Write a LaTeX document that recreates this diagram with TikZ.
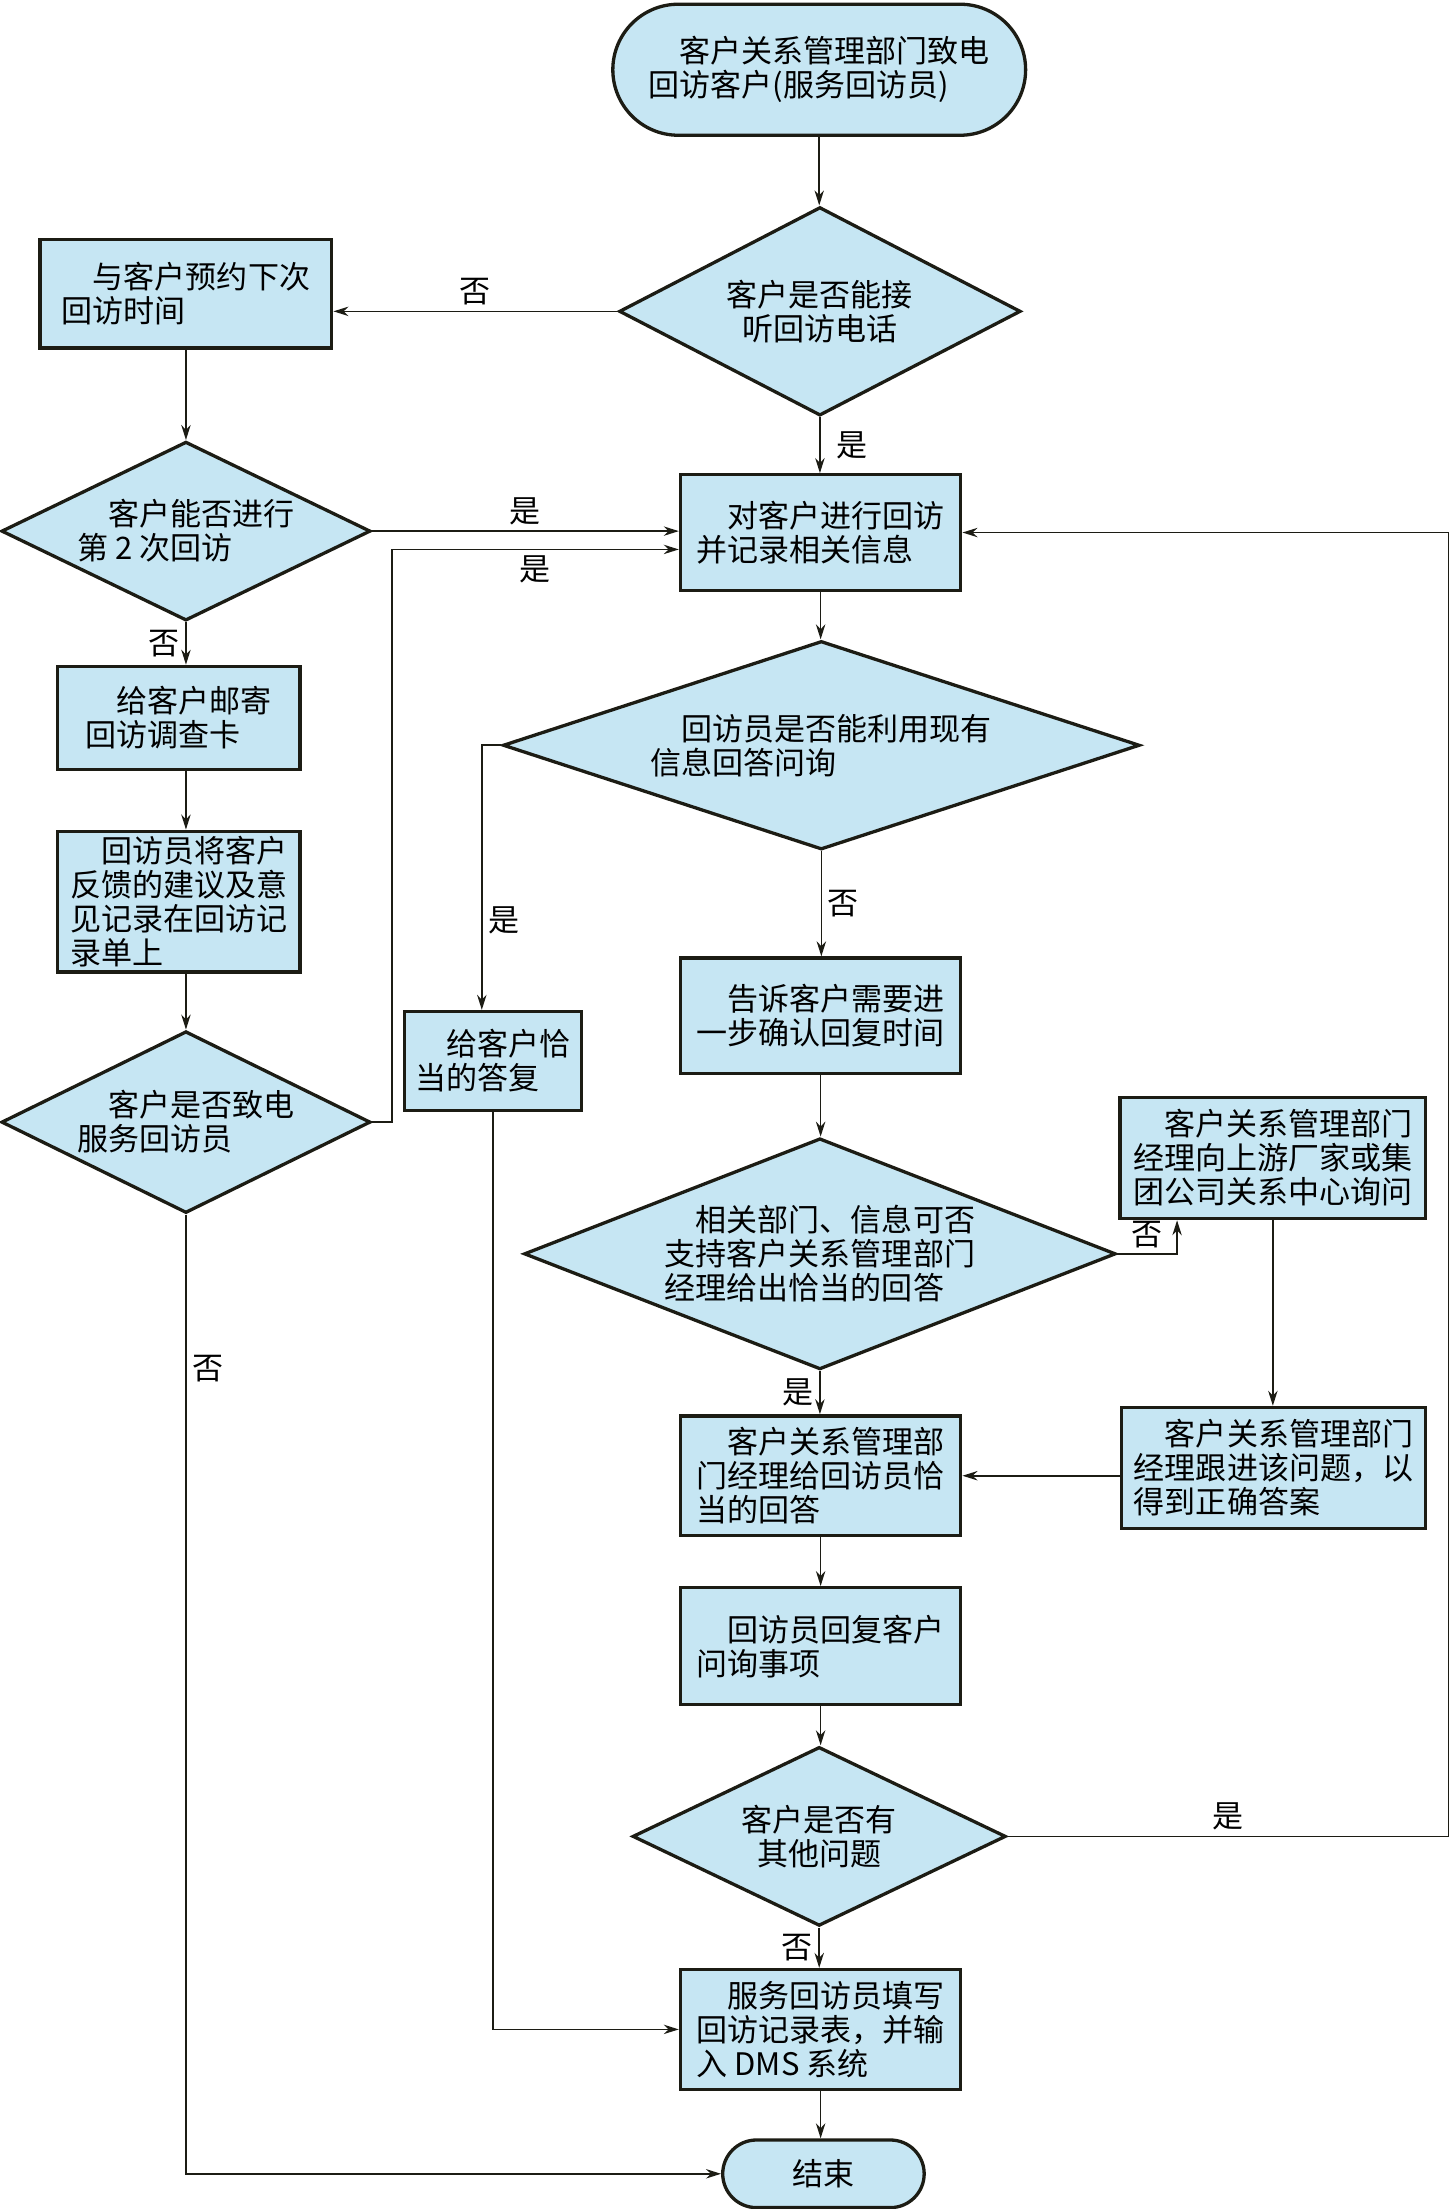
\documentclass[tikz,border=0pt]{standalone}
\usepackage{fontspec}
\setmainfont{Noto Sans CJK SC}
\usetikzlibrary{arrows.meta,calc,shapes.geometric,shapes.misc}
\definecolor{boxblue}{RGB}{198,230,243}
\definecolor{linecol}{RGB}{28,28,20}

\begin{document}
\begin{tikzpicture}[x=0.03cm,y=-0.03cm,
  every node/.style={font=\fontsize{18.8}{20.6}\selectfont},
  proc/.style={draw=linecol,line width=2pt,fill=boxblue,align=left,inner sep=0pt},
  dec/.style={diamond,draw=linecol,line width=2pt,fill=boxblue,align=left,inner sep=0pt},
  term/.style={rounded rectangle,draw=linecol,line width=2pt,fill=boxblue,align=left,inner sep=0pt},
  flow/.style={draw=linecol,line width=1pt,-{Stealth[length=3.2mm,width=2mm]}}]
  \useasboundingbox (0,0) rectangle (1029,1568);

  \node[term,minimum width=8.79cm,minimum height=2.79cm] (start) at (581.5,49.5) {\hspace*{1em}客户关系管理部门致电\\回访客户(服务回访员)};
  \node[dec,align=center,minimum width=8.55cm,minimum height=4.44cm,shape aspect=1.93] (ask) at (582,221) {客户是否能接\\听回访电话};
  \node[proc,minimum width=6.21cm,minimum height=2.31cm] (book) at (132,208.5) {\hspace*{1em}与客户预约下次\\回访时间};
  \node[dec,minimum width=7.86cm,minimum height=3.81cm,shape aspect=2.06] (second) at (132,377) {\hspace*{1em}客户能否进行\\第 2 次回访};
  \node[proc,minimum width=5.97cm,minimum height=2.46cm] (visit) at (582.5,378) {\hspace*{1em}对客户进行回访\\并记录相关信息};
  \node[dec,minimum width=13.56cm,minimum height=4.44cm,shape aspect=3.05] (info) at (583,529) {\hspace*{1em}回访员是否能利用现有\\信息回答问询};
  \node[proc,minimum width=5.16cm,minimum height=2.19cm] (mail) at (127,509.5) {\hspace*{1em}给客户邮寄\\回访调查卡};
  \node[proc,minimum width=5.16cm,minimum height=3cm] (note) at (127,640) {\hspace*{1em}回访员将客户\\反馈的建议及意\\见记录在回访记\\录单上};
  \node[dec,minimum width=7.86cm,minimum height=3.87cm,shape aspect=2.03] (call) at (132,796.5) {\hspace*{1em}客户是否致电\\服务回访员};
  \node[proc,minimum width=3.78cm,minimum height=2.1cm] (reply) at (350,753) {\hspace*{1em}给客户恰\\当的答复};
  \node[proc,minimum width=5.97cm,minimum height=2.46cm] (later) at (582.5,721) {\hspace*{1em}告诉客户需要进\\一步确认回复时间};
  \node[dec,minimum width=12.6cm,minimum height=4.92cm,shape aspect=2.56] (support) at (582,890) {\hspace*{1em}相关部门、信息可否\\支持客户关系管理部门\\经理给出恰当的回答};
  \node[proc,minimum width=6.51cm,minimum height=2.58cm] (upstream) at (903.5,822) {\hspace*{1em}客户关系管理部门\\经理向上游厂家或集\\团公司关系中心询问};
  \node[proc,minimum width=6.48cm,minimum height=2.58cm] (follow) at (904,1042) {\hspace*{1em}客户关系管理部门\\经理跟进该问题，以\\得到正确答案};
  \node[proc,minimum width=5.97cm,minimum height=2.55cm] (answer) at (582.5,1047.5) {\hspace*{1em}客户关系管理部\\门经理给回访员恰\\当的回答};
  \node[proc,minimum width=5.97cm,minimum height=2.49cm] (respond) at (582.5,1168.5) {\hspace*{1em}回访员回复客户\\问询事项};
  \node[dec,align=center,minimum width=7.95cm,minimum height=3.81cm,shape aspect=2.09] (more) at (581.5,1303.5) {客户是否有\\其他问题};
  \node[proc,minimum width=5.97cm,minimum height=2.55cm] (record) at (582.5,1440.5) {\hspace*{1em}服务回访员填写\\回访记录表，并输\\入 DMS 系统};
  \node[term,minimum width=4.29cm,minimum height=1.44cm] (finish) at (584.5,1543) {结束};

  \draw[flow] (start.south) -- (start.south |- ask.north);
  \draw[flow] (ask.west) -- node[above] (no1) {否} (ask.west -| book.east);
  \draw[flow] (ask.south) -- node[right,xshift=6pt] (yes1) {是} (ask.south |- visit.north);
  \draw[flow] (book.south) -- (second.north);
  \draw[flow] (second.east) -- node[above] (yes2) {是} (second.east -| visit.west);
  \draw[flow] (call.east) -- ++(14,0) |- node[below,pos=0.75] (yes3) {是} ($(visit.west)+(0,12)$);
  \draw[flow] (second.south) -- node[left] (no2) {否} (second.south |- mail.north);
  \draw[flow] (second.south |- mail.south) -- (second.south |- note.north);
  \draw[flow] (second.south |- note.south) -- (call.north);
  \draw[flow] (call.south) |- node[right,pos=0.08] (no3) {否} (finish.west);
  \draw[flow] (visit.south) -- (visit.south |- info.north);
  \draw[flow] (info.west) -| node[right,pos=0.83] (yes4) {是} ($(reply.north)+(-8,0)$);
  \draw[flow] (info.south) -- node[right] (no4) {否} (info.south |- later.north);
  \draw[flow] (reply.south) |- (record.west);
  \draw[flow] (later.south) -- (later.south |- support.north);
  \draw[flow] (support.east) -| node[above,pos=0.25] (no5) {否} ($(upstream.south)+(-68,0)$);
  \draw[flow] (upstream.south) -- (upstream.south |- follow.north);
  \draw[flow] (follow.west |- answer.east) -- (answer.east);
  \draw[flow] (support.south) -- node[left] (yes5) {是} (support.south |- answer.north);
  \draw[flow] (answer.south) -- (respond.north);
  \draw[flow] (respond.south) -- (respond.south |- more.north);
  \draw[flow] (more.east) -- node[above] (yes6) {是} ++(313,0) |- (visit.east);
  \draw[flow] (more.south) -- node[left] (no6) {否} (more.south |- record.north);
  \draw[flow] (record.south) -- (record.south |- finish.north);
\end{tikzpicture}
\end{document}
